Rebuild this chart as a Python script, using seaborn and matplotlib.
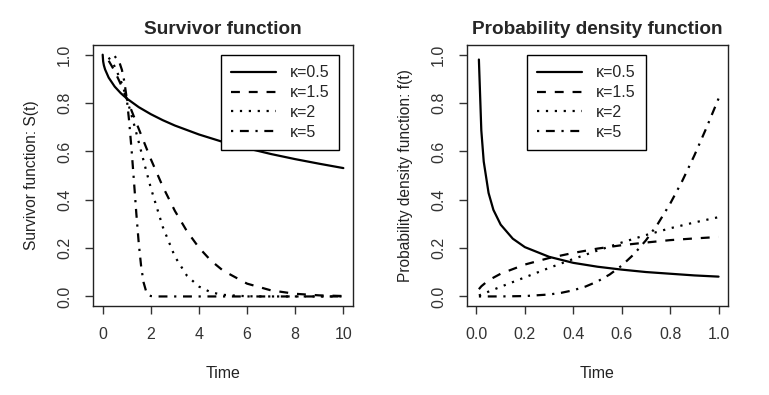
import numpy as np
import pandas as pd
import matplotlib
matplotlib.use("Agg")
import matplotlib.pyplot as plt
import seaborn as sns

# Values
kappas = ["κ=0.5", "κ=1.5", "κ=2", "κ=5"]

# Survivor function S(t)
s_t_05 = [0, 0.02, 0.05, 0.1, 0.25, 0.5, 0.75, 1, 1.5, 2, 2.5, 3, 4, 5, 6, 7, 8, 9, 10]
s_v_05 = [1.0, 0.972, 0.956, 0.939, 0.905, 0.868, 0.841, 0.819, 0.783, 0.754, 0.729,
          0.707, 0.670, 0.639, 0.613, 0.589, 0.568, 0.549, 0.531]
s_t_15 = [0.25, 0.5, 0.75, 1, 1.25, 1.5, 2, 2.5, 3, 3.5, 4, 4.5, 5, 6, 7, 8, 9, 10]
s_v_15 = [0.975, 0.932, 0.878, 0.819, 0.756, 0.693, 0.568, 0.454, 0.354, 0.270, 0.202,
          0.148, 0.107, 0.053, 0.025, 0.011, 0.0045, 0.0018]
s_t_2 = [0.25, 0.5, 0.75, 1, 1.25, 1.5, 1.75, 2, 2.5, 3, 3.5, 4, 4.5, 5, 6, 7, 8, 9, 10]
s_v_2 = [0.988, 0.951, 0.894, 0.819, 0.732, 0.638, 0.542, 0.449, 0.287, 0.165, 0.086,
         0.041, 0.017, 0.0067, 0.0007, 0.0, 0.0, 0.0, 0.0]
s_t_5 = [0.5, 0.7, 0.8, 0.9, 1.0, 1.1, 1.2, 1.3, 1.4, 1.5, 1.6, 1.7, 1.8, 1.9, 2.0, 2.2,
         3, 4, 5, 6, 7, 8, 9, 10]
s_v_5 = [0.994, 0.967, 0.937, 0.889, 0.819, 0.725, 0.608, 0.476, 0.341, 0.219, 0.123,
         0.058, 0.023, 0.0071, 0.0017, 0.0, 0.0, 0.0, 0.0, 0.0, 0.0, 0.0, 0.0, 0.0]

# Probability density function f(t)
f_t_05 = [0.01, 0.02, 0.03, 0.05, 0.07, 0.1, 0.15, 0.2, 0.3, 0.4, 0.5, 0.6, 0.7, 0.8, 0.9, 1.0]
f_v_05 = [0.980, 0.687, 0.558, 0.428, 0.358, 0.297, 0.239, 0.204, 0.164, 0.139, 0.123,
          0.111, 0.101, 0.094, 0.087, 0.082]
f_t_15 = [0.01, 0.02, 0.05, 0.1, 0.2, 0.3, 0.4, 0.5, 0.6, 0.7, 0.8, 0.9, 1.0]
f_v_15 = [0.030, 0.042, 0.067, 0.094, 0.132, 0.159, 0.180, 0.198, 0.212, 0.223, 0.233,
          0.240, 0.246]
f_t_2 = [0.01, 0.1, 0.2, 0.3, 0.4, 0.5, 0.6, 0.7, 0.8, 0.9, 1.0]
f_v_2 = [0.004, 0.040, 0.079, 0.118, 0.155, 0.190, 0.223, 0.254, 0.282, 0.306, 0.328]
f_t_5 = [0.01, 0.1, 0.2, 0.3, 0.35, 0.4, 0.45, 0.5, 0.55, 0.6, 0.65, 0.7, 0.75, 0.8,
         0.85, 0.9, 0.95, 1.0]
f_v_5 = [0.0, 0.0001, 0.0016, 0.0081, 0.015, 0.0256, 0.0408, 0.0621, 0.0906, 0.1276,
         0.1744, 0.2322, 0.3017, 0.3836, 0.4777, 0.5831, 0.6977, 0.8187]


def long_df(ts, vs):
    parts = []
    for k, t, v in zip(kappas, ts, vs):
        parts.append(pd.DataFrame({"t": t, "v": v, "kappa": k}))
    return pd.concat(parts, ignore_index=True)


surv = long_df([s_t_05, s_t_15, s_t_2, s_t_5], [s_v_05, s_v_15, s_v_2, s_v_5])
dens = long_df([f_t_05, f_t_15, f_t_2, f_t_5], [f_v_05, f_v_15, f_v_2, f_v_5])

sns.set_theme(style="ticks")
plt.rcParams["font.family"] = ["Liberation Sans", "DejaVu Sans"]

# R-like line types: solid, dashed, dotted, dotdash
dash_map = {"κ=0.5": "", "κ=1.5": (4, 4), "κ=2": (1, 3), "κ=5": (1, 3, 4, 3)}
lw = 1.6

fig = plt.figure(figsize=(7.69, 3.95), dpi=100)
ax1 = fig.add_axes([0.121, 0.225, 0.338, 0.661])
ax2 = fig.add_axes([0.607, 0.225, 0.340, 0.661])

sns.lineplot(data=surv, x="t", y="v", style="kappa", dashes=dash_map, color="black",
             linewidth=lw, ax=ax1, legend=False, sort=False)
sns.lineplot(data=dens, x="t", y="v", style="kappa", dashes=dash_map, color="black",
             linewidth=lw, ax=ax2, legend=False, sort=False)

ax1.set_xlim(-0.4, 10.4)
ax1.set_xticks([0, 2, 4, 6, 8, 10])
ax2.set_xlim(-0.04, 1.04)
ax2.set_xticks([0.0, 0.2, 0.4, 0.6, 0.8, 1.0])
ax2.set_xticklabels(["0.0", "0.2", "0.4", "0.6", "0.8", "1.0"])

for ax, title, ylab in [(ax1, "Survivor function", "Survivor function: S(t)"),
                        (ax2, "Probability density function",
                         "Probability density function: f(t)")]:
    ax.set_ylim(-0.04, 1.04)
    ax.set_yticks([0.0, 0.2, 0.4, 0.6, 0.8, 1.0])
    ax.set_yticklabels(["0.0", "0.2", "0.4", "0.6", "0.8", "1.0"], rotation=90, va="center")
    ax.set_title(title, fontsize=13.7, fontweight="bold", pad=8)
    ax.set_xlabel("Time", fontsize=11.5, labelpad=17, color="#222222")
    ax.set_ylabel(ylab, fontsize=11.2, labelpad=13, color="#222222")
    ax.tick_params(axis="both", direction="out", length=6, width=1, color="#333333",
                   labelsize=11.5, labelcolor="#333333", pad=9)
    for sp in ax.spines.values():
        sp.set_visible(True)
        sp.set_color("#222222")
        sp.set_linewidth(1)

    handles = []
    for k in kappas:
        h = plt.Line2D([], [], color="black", linewidth=lw)
        if dash_map[k]:
            h.set_dashes(dash_map[k])
        handles.append(h)

    if ax is ax1:
        loc, anchor = "upper right", (0.948, 0.962)
    else:
        loc, anchor = "upper left", (0.230, 0.962)
    leg = ax.legend(handles, kappas, loc=loc, bbox_to_anchor=anchor, borderaxespad=0,
                    fontsize=11.5, handlelength=2.8, handletextpad=0.85, labelspacing=0.3,
                    borderpad=0.65, fancybox=False, framealpha=1, edgecolor="black")
    leg.get_frame().set_linewidth(1)

fig.savefig("out.png", dpi=100, facecolor="white")
